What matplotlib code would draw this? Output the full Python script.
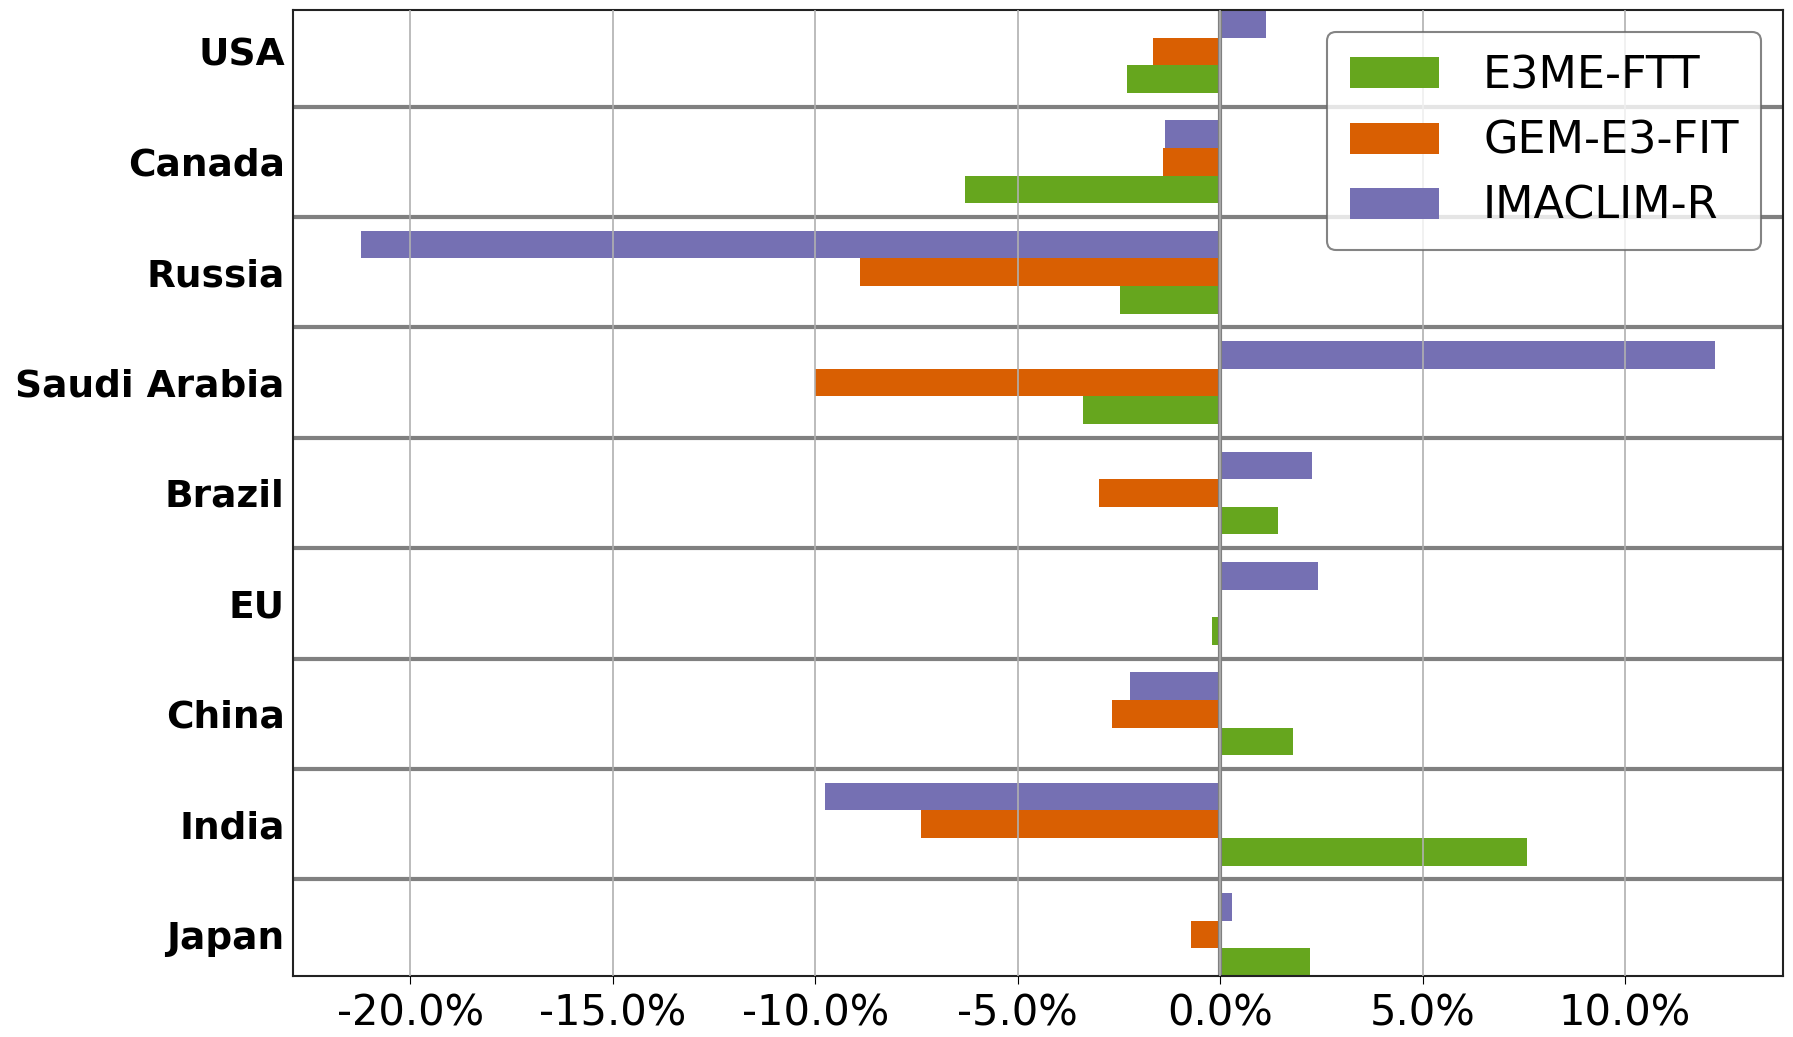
import numpy as np
import matplotlib.pyplot as plt
from matplotlib.ticker import PercentFormatter

plt.rcParams['font.family'] = ['DejaVu Sans']
plt.rcParams['axes.unicode_minus'] = False

# change per region for each model (fraction)
regions = ["USA", "Canada", "Russia", "Saudi Arabia", "Brazil", "EU", "China", "India", "Japan"]
models = ["E3ME-FTT", "GEM-E3-FIT", "IMACLIM-R"]
e3me_ftt = [-0.0231, -0.0631, -0.0248, -0.0340, 0.0142, -0.0021, 0.0181, 0.0759, 0.0221]
gem_e3_fit = [-0.0167, -0.0142, -0.0890, -0.1000, -0.0300, 0.0, -0.0267, -0.0740, -0.0073]
imaclim_r = [0.0112, -0.0137, -0.2122, 0.1221, 0.0228, 0.0241, -0.0223, -0.0976, 0.0028]
colors = ["#66a61e", "#d95f02", "#7570b3"]

width = 0.25
y = np.arange(len(regions))

fig = plt.figure(figsize=(17.93, 10.37), dpi=100)
ax = fig.add_axes([0.1634, 0.0588, 0.831, 0.9316])

# green at the bottom of each group, purple on top (y axis is inverted)
for vals, offset, name, c in zip([e3me_ftt, gem_e3_fit, imaclim_r], [width, 0, -width], models, colors):
    ax.barh(y + offset, vals, height=width, color=c, label=name)

ax.set_ylim(len(regions) - 1 + 1.5 * width, -1.5 * width)
ax.set_xlim(-0.229, 0.139)
ax.set_yticks(y, regions, fontsize=27, fontweight="bold")
ax.tick_params(axis="y", length=0, pad=6)
ax.tick_params(axis="x", labelsize=30, length=6, pad=6)
ax.xaxis.set_major_formatter(PercentFormatter(1.0, decimals=1))

# grid on top of the bars, plus group separators and the zero line
ax.set_axisbelow(False)
ax.grid(axis="x", color="#b0b0b0", linewidth=1.2)
for k in range(len(regions) - 1):
    ax.axhline(k + 0.5, color="#808080", linewidth=3)
ax.axvline(0, color="#808080", linewidth=3)

for s in ax.spines.values():
    s.set_linewidth(1.5)
    s.set_color("#222222")

leg = ax.legend(loc="upper right", fontsize=32, fancybox=True, framealpha=0.8,
                handlelength=2.0, handletextpad=1.0, borderpad=0.5)
leg.get_frame().set_edgecolor("#666666")
leg.get_frame().set_linewidth(1.5)

fig.savefig("out.png", dpi=100)
